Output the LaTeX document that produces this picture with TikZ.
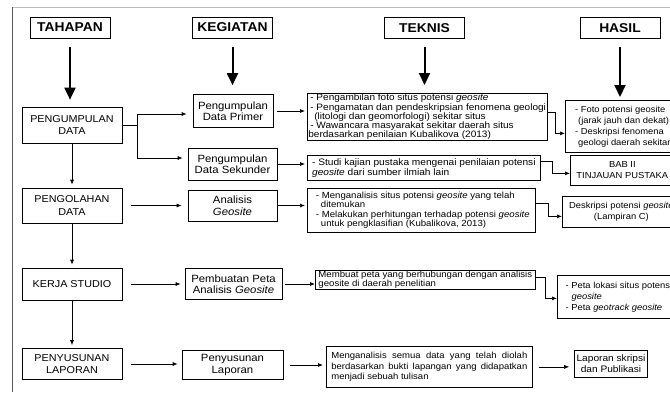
\documentclass[tikz,border=0pt]{standalone}
\usepackage{fontspec}
\setmainfont{Liberation Sans}[FakeStretch=1.08]
\usetikzlibrary{arrows.meta}

\newcommand{\ukuran}[2]{\fontsize{#1}{#2}\selectfont}

\begin{document}
\begin{tikzpicture}
[x=1pt,y=-1pt,line width=0.7pt,
	judul/.style={draw,font=\bfseries\ukuran{12.8}{14},minimum width=80pt,minimum height=21pt,inner sep=0pt},
	tahap/.style={draw,align=center,font=\ukuran{10}{12.5},minimum width=100pt,inner sep=0pt},
	giat/.style={draw,align=center,font=\ukuran{10.5}{11.5},inner sep=0pt},
	teknik/.style={draw,align=left,font=\ukuran{8.9}{9.5},inner xsep=1pt,inner ysep=0pt,anchor=north west},
	hasil/.style={draw,font=\ukuran{8.7}{11},inner xsep=2pt,inner ysep=0pt},
	panah/.style={-{Latex[length=5pt,width=4pt]}},
	panahbesar/.style={line width=2pt,-{Triangle[length=12pt,width=11pt]}}]
\useasboundingbox (0,0) rectangle (670,392);
\clip (0,0) rectangle (670,392);
\draw[gray!55] (12,7) -- (670,7);
\draw[gray!70!black] (12,7) -- (12,392);

\node[judul] (tahapan) at (70,27.5) {TAHAPAN};
\node[judul] (kegiatan) at (232.5,27.5) {KEGIATAN};
\node[judul] (teknis) at (424.5,28) {TEKNIS};
\node[judul] (hasil) at (620,28) {HASIL};

\node[tahap,minimum height=36pt] (kumpul) at (72,125) {PENGUMPULAN\\DATA};
\node[tahap,minimum height=35pt] (olah) at (72,205.5) {PENGOLAHAN\\DATA};
\node[tahap,minimum height=32pt] (studio) at (72,284) {KERJA STUDIO};
\node[tahap,minimum height=31pt] (susun) at (72,364) {PENYUSUNAN\\LAPORAN};

\node[giat,minimum width=80pt,minimum height=33pt] (primer) at (233,111) {Pengumpulan\\Data Primer};
\node[giat,minimum width=89pt,minimum height=32pt] (sekunder) at (232.5,164) {Pengumpulan\\Data Sekunder};
\node[giat,minimum width=89pt,minimum height=31pt] (analisis) at (232.5,205.5) {Analisis\\\textit{Geosite}};
\node[giat,minimum width=97pt,minimum height=31pt] (peta) at (233.5,284) {Pembuatan Peta\\Analisis \textit{Geosite}};
\node[giat,minimum width=101pt,minimum height=29pt] (laporan) at (232.5,365) {Penyusunan\\Laporan};

\node[teknik,minimum width=238pt,minimum height=47pt,font=\ukuran{9.3}{9.2}] (t1) at (307,93) {\hspace*{2pt}- Pengambilan foto situs potensi \textit{geosite}\\\hspace*{2pt}- Pengamatan dan pendeskripsian fenomena geologi\\\hspace*{6pt}(litologi dan geomorfologi) sekitar situs\\\hspace*{2pt}- Wawancara masyarakat sekitar daerah situs\\berdasarkan penilaian Kubalikova (2013)};
\node[teknik,minimum width=233pt,minimum height=25pt,font=\ukuran{9.4}{10.5}] (t2) at (307,155) {- Studi kajian pustaka mengenai penilaian potensi\\\textit{geosite} dari sumber ilmiah lain};
\node[teknik,minimum width=228pt,minimum height=44pt] (t3) at (307,188) {\hspace*{3pt}- Menganalisis situs potensi \textit{geosite} yang telah\\\hspace*{8pt}ditemukan\\\hspace*{3pt}- Melakukan perhitungan terhadap potensi \textit{geosite}\\\hspace*{8pt}untuk pengklasifian (Kubalikova, 2013)};
\node[teknik,minimum width=220pt,minimum height=19pt,font=\ukuran{8.9}{9.5}] (t4) at (315,270) {Membuat peta yang berhubungan dengan analisis\\geosite di daerah penelitian};
\node[teknik,minimum height=41pt,inner xsep=5pt,font=\ukuran{8.8}{10.5}] (t5) at (326,346) {\makebox[196pt][s]{Menganalisis semua data yang telah diolah}\\\makebox[196pt][s]{berdasarkan bukti lapangan yang didapatkan}\\menjadi sebuah tulisan};

\node[hasil,anchor=north west,align=left,minimum width=115pt,minimum height=52pt] (h1) at (565,100) {- Foto potensi geosite\\\hspace*{3pt}(jarak jauh dan dekat)\\- Deskripsi fenomena\\\hspace*{3pt}geologi daerah sekitar};
\node[hasil,anchor=north west,align=center,minimum width=104pt,minimum height=30pt] (h2) at (570,155) {BAB II\\TINJAUAN PUSTAKA};
\node[hasil,anchor=north west,align=center,minimum width=118pt,minimum height=31pt] (h3) at (562,196) {Deskripsi potensi \textit{geosite}\\(Lampiran C)};
\node[hasil,anchor=north west,align=left,minimum width=123pt,minimum height=43pt] (h4) at (557,275) {- Peta lokasi situs potensi\\\hspace*{6pt}\textit{geosite}\\- Peta \textit{geotrack geosite}};
\node[hasil,align=center,minimum width=72pt,minimum height=27pt,font=\ukuran{9.4}{11}] (h5) at (611,363.5) {Laporan skripsi\\dan Publikasi};

\draw[panahbesar,shorten <=9pt,shorten >=7pt] (tahapan.south) -- (tahapan.south |- kumpul.north);
\draw[panahbesar,shorten <=9pt,shorten >=9pt] (kegiatan.south) -- (kegiatan.south |- primer.north);
\draw[panahbesar,shorten <=8pt,shorten >=8pt] (teknis.south) -- (teknis.south |- t1.north);
\draw[panahbesar,shorten <=8pt,shorten >=3pt] (hasil.south) -- (hasil.south |- h1.north);

\draw[panah,shorten >=3pt] (kumpul) -- (olah);
\draw[panah,shorten >=3pt] (olah) -- (studio);
\draw[panah,shorten >=3pt] (studio) -- (susun);

\coordinate (cabang) at (137,125);
\draw (kumpul.east) -- (cabang);
\draw[panah,shorten >=6pt] (cabang) |- ([yshift=-3pt]primer.west);
\draw[panah,shorten >=5pt] (cabang) |- ([yshift=6pt]sekunder.west);
\draw[panah,shorten <=9pt,shorten >=6pt] (olah.east) -- (olah.east -| analisis.west);
\draw[panah,shorten <=9pt,shorten >=4pt] (studio.east) -- (studio.east -| peta.west);
\draw[panah,shorten <=9pt,shorten >=4pt] (susun.east) -- (susun.east -| laporan.west);

\draw[panah,shorten <=4pt,shorten >=2pt] (primer.east) -- (primer.east -| t1.west);
\draw[panah,shorten <=1pt,shorten >=2pt] (sekunder.east) -- (sekunder.east -| t2.west);
\draw[panah,shorten >=2pt] (analisis.east) -- (analisis.east -| t3.west);
\draw[panah,shorten <=3pt] (peta.east) -- (peta.east -| t4.west);
\draw[panah,shorten <=7pt,shorten >=3pt] (laporan.east) -- (laporan.east -| t5.west);

\draw[panah] ([yshift=4.5pt]t1.east) -- ++(8,0) |- ([yshift=-7pt]h1.west);
\draw[panah] ([yshift=6.5pt]t2.east) -- ++(12,0) |- ([yshift=-3pt]h2.west);
\draw[panah] ([yshift=7pt]t3.east) -- ++(13,0) |- ([yshift=-4.5pt]h3.west);
\draw[panah] ([yshift=2.5pt]t4.east) -- ++(10,0) |- ([yshift=-1.5pt]h4.west);
\draw[panah,shorten <=6pt,shorten >=5pt] (t5.east) -- (t5.east -| h5.west);
\end{tikzpicture}
\end{document}
